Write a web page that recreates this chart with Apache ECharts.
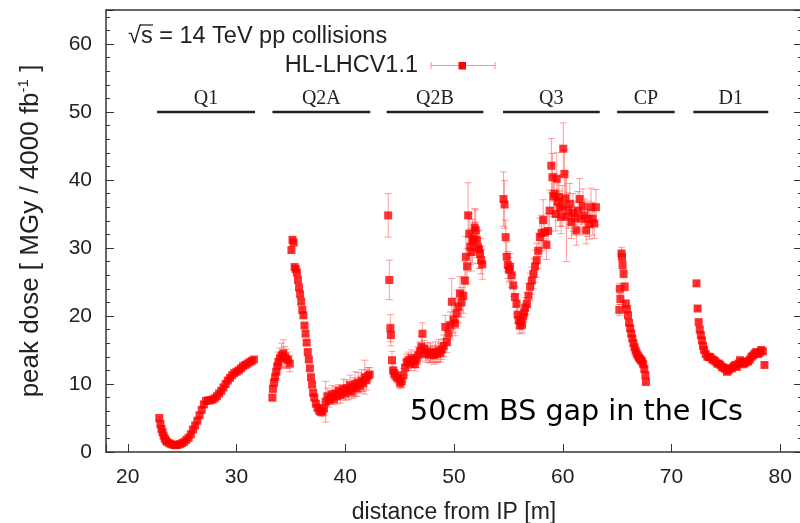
<!DOCTYPE html>
<html><head><meta charset="utf-8">
<script src="https://cdn.jsdelivr.net/npm/echarts@6/dist/echarts.min.js"></script>
<style>html,body{margin:0;padding:0;background:#fff}#c{width:800px;height:523px}</style>
</head><body><div id="c"></div>
<script>
// ---- data (distance from IP [m], peak dose [MGy / 4000 fb^-1], error) ----
const q1X = [22.9,23.0,23.1,23.2,23.3,23.4,23.5,23.6,23.8,24.0,24.2,24.4,24.6,24.8,25.0,25.2,25.4,25.6,25.8,26.0,26.2,26.4,26.6,26.8,27.0,27.2,27.4,27.6,27.8,28.0,28.2,28.4,28.6,28.8,29.0,29.2,29.4,29.6,29.8,30.0,30.2,30.4,30.6,30.8,31.0,31.2,31.4,31.6];
const q1Y = [5.0,4.1,3.4,2.9,2.4,2.0,1.7,1.5,1.3,1.15,1.05,1.0,1.05,1.15,1.3,1.5,1.8,2.1,2.6,3.3,3.9,4.6,5.4,6.2,7.0,7.5,7.6,7.6,7.7,7.9,8.2,8.6,9.0,9.5,10.0,10.5,10.9,11.3,11.6,11.8,12.0,12.3,12.6,12.8,13.0,13.2,13.4,13.6];
const q1E = [0.2,0.2,0.1,0.1,0.1,0.1,0.1,0.1,0.1,0.1,0.1,0.1,0.1,0.1,0.1,0.1,0.1,0.1,0.1,0.1,0.2,0.2,0.2,0.3,0.4,0.4,0.3,0.3,0.3,0.3,0.3,0.3,0.3,0.3,0.3,0.3,0.3,0.3,0.3,0.3,0.3,0.3,0.3,0.3,0.3,0.3,0.3,0.3];

const q2aX = [33.3,33.35,33.45,33.55,33.65,33.75,33.85,34.0,34.15,34.3,34.45,34.6,34.75,34.9,35.05,35.15,35.25,35.35,35.45,35.55,35.65,35.75,35.85,35.95,36.05,36.15,36.25,36.35,36.45,36.55,36.65,36.75,36.85,36.95,37.05,37.15,37.3,37.45,37.6,37.75,37.9,38.05,38.2,38.35,38.5,38.65,38.8,38.95,39.1,39.25,39.4,39.55,39.7,39.85,40.0,40.15,40.3,40.45,40.6,40.75,40.9,41.05,41.2,41.35,41.5,41.65,41.8,41.95,42.1,42.25];
const q2aY = [8.0,9.3,10.2,11.0,11.8,12.6,13.2,13.8,14.2,14.5,14.0,13.7,13.5,13.0,29.7,31.2,30.8,27.2,26.9,26.4,25.3,24.2,23.2,22.1,20.9,20.1,18.6,17.4,16.1,14.7,13.6,12.3,11.0,9.9,8.7,8.0,7.1,6.5,6.1,5.9,6.0,6.4,7.4,8.2,7.6,8.0,8.5,7.8,8.6,8.2,9.0,8.4,8.8,9.3,8.6,9.4,9.0,9.8,8.9,9.5,10.0,9.4,10.2,9.7,10.5,10.1,11.0,10.6,11.2,11.4];
const q2aE = [0.5,0.5,0.6,0.8,1.0,1.2,1.5,1.5,1.8,2.0,1.5,1.4,1.2,1.2,0.3,0.3,0.3,0.3,0.3,0.3,0.3,0.3,0.3,0.3,0.3,0.3,0.3,0.3,0.3,0.3,0.3,0.3,0.3,0.3,0.3,0.3,0.3,0.4,0.5,0.6,0.8,1.0,3.0,1.2,1.0,0.9,1.3,0.8,1.0,1.1,0.9,1.2,1.0,1.4,1.0,1.2,1.3,1.5,1.0,1.4,1.8,1.2,1.5,1.0,1.6,1.2,2.5,1.5,1.2,1.0];

const q2bX = [43.95,44.05,44.15,44.2,44.3,44.4,44.5,44.6,44.75,44.9,45.05,45.2,45.35,45.5,45.65,45.8,45.95,46.1,46.25,46.4,46.55,46.7,46.85,47.0,47.1,47.25,47.4,47.55,47.7,47.85,48.0,48.15,48.3,48.45,48.6,48.75,48.9,49.05,49.2,49.35,49.5,49.65,49.8,49.95,50.1,50.25,50.4,50.55,50.7,50.85,51.0,51.1,51.2,51.3,51.4,51.5,51.6,51.7,51.8,51.9,52.0,52.1,52.2,52.3,52.4,52.5,52.6];
const q2bY = [34.8,25.3,18.2,17.2,13.5,12.0,11.6,11.3,11.0,10.8,10.1,10.4,11.3,12.4,13.2,13.5,13.0,13.8,13.4,12.9,13.6,14.2,14.8,15.5,17.4,15.2,14.4,14.8,14.3,14.6,14.5,14.2,14.7,14.4,14.9,14.6,15.1,15.6,18.4,16.2,17.4,18.6,22.1,19.5,18.9,20.4,21.4,23.3,22.0,23.0,25.2,28.7,27.3,34.8,32.1,30.2,29.4,31.0,31.4,33.0,32.6,31.2,30.1,29.8,29.2,28.2,27.6];
const q2bE = [3.2,2.9,2.0,1.6,1.3,1.0,0.9,0.8,0.8,0.8,0.8,0.9,1.0,1.1,1.2,1.2,1.0,1.2,1.0,1.0,1.2,1.3,1.4,1.5,1.6,1.2,1.2,1.3,1.2,1.4,1.2,1.3,1.5,1.3,1.6,1.4,1.5,1.6,1.7,1.6,1.8,2.0,3.4,2.0,1.8,2.2,2.4,2.5,2.2,2.6,2.8,3.0,2.6,4.8,3.0,2.6,2.8,3.2,2.4,2.8,3.0,2.6,2.4,2.8,2.2,2.0,2.2];

const q3X = [54.55,54.65,54.75,54.85,54.95,55.05,55.15,55.3,55.45,55.6,55.75,55.85,55.95,56.05,56.15,56.25,56.35,56.45,56.55,56.7,56.85,57.0,57.15,57.3,57.45,57.6,57.75,57.9,58.05,58.2,58.35,58.5,58.65,58.8,58.95,59.05,59.15,59.25,59.35,59.45,59.55,59.65,59.75,59.85,59.95,60.05,60.15,60.25,60.35,60.5,60.65,60.8,60.95,61.1,61.25,61.4,61.55,61.7,61.85,62.0,62.15,62.3,62.45,62.6,62.75,62.9,63.05];
const q3Y = [37.2,36.4,31.6,28.7,27.5,26.8,27.2,26.0,24.5,22.8,21.8,20.2,19.4,18.6,19.2,18.7,19.9,20.5,21.2,21.8,23.0,24.3,25.2,26.2,27.3,28.2,29.6,31.6,32.2,34.1,32.3,30.5,32.5,35.5,42.1,40.4,37.6,38.0,35.0,40.2,36.8,37.5,35.8,34.6,36.2,44.6,40.9,37.3,34.6,35.5,36.5,33.8,35.2,34.4,32.6,35.5,37.2,34.3,36.1,34.8,32.6,34.3,33.5,36.0,34.3,33.6,36.0];
const q3E = [4.0,3.5,2.5,2.2,2.0,1.8,2.0,1.8,1.6,1.5,1.4,1.3,1.2,1.2,1.2,1.2,1.3,1.4,1.5,1.6,1.8,2.0,2.0,2.2,2.4,2.5,2.6,2.8,2.6,3.0,2.4,2.2,2.6,3.0,4.0,3.5,3.0,3.0,2.5,3.8,2.8,3.0,2.6,2.5,3.0,3.8,3.5,3.0,6.6,2.6,3.0,2.4,2.8,2.5,2.2,2.8,3.0,2.4,2.6,2.4,2.0,2.6,2.2,2.8,2.4,2.2,2.6];

const cpX = [65.2,65.25,65.3,65.4,65.45,65.5,65.6,65.7,65.8,65.9,66.0,66.1,66.2,66.3,66.4,66.5,66.6,66.7,66.8,66.9,67.0,67.1,67.2,67.3,67.4,67.5,67.6,67.65];
const cpY = [20.9,24.0,22.5,29.2,28.7,27.5,26.2,24.3,21.8,21.0,20.1,19.0,18.2,17.4,16.7,16.0,15.4,14.9,14.5,14.2,13.9,13.7,13.5,13.3,12.9,12.2,11.3,10.3];
const cpE = [0.8,0.8,0.8,0.9,0.8,0.7,0.6,0.6,0.6,0.5,0.5,0.4,0.4,0.3,0.3,0.3,0.3,0.3,0.3,0.3,0.3,0.3,0.3,0.3,0.3,0.3,0.3,0.3];

const d1X = [72.3,72.4,72.5,72.6,72.7,72.8,72.9,73.0,73.15,73.3,73.45,73.6,73.75,73.9,74.05,74.2,74.35,74.5,74.65,74.8,74.95,75.1,75.25,75.4,75.55,75.7,75.85,76.0,76.15,76.3,76.45,76.6,76.75,76.9,77.05,77.2,77.35,77.5,77.65,77.8,77.95,78.1,78.25,78.4,78.55];
const d1Y = [24.8,21.1,19.1,18.0,17.2,16.4,15.6,15.0,14.4,14.0,14.0,13.9,13.6,13.5,13.3,13.0,13.0,12.8,12.5,12.4,12.2,11.8,12.0,12.3,12.3,12.6,12.8,12.5,13.0,13.5,13.2,12.9,13.1,13.3,13.3,13.6,14.0,14.2,14.5,14.7,14.4,14.6,15.0,14.8,12.8];
const d1E = [0.3,0.3,0.3,0.3,0.3,0.3,0.3,0.3,0.3,0.4,0.5,0.4,0.3,0.3,0.3,0.3,0.3,0.3,0.3,0.3,0.3,0.3,0.3,0.3,0.3,0.3,0.3,0.3,0.3,0.3,0.3,0.3,0.3,0.3,0.3,0.3,0.3,0.3,0.3,0.3,0.3,0.3,0.3,0.3,0.3];

// magnet labels and their extent
const magnetNames = ['Q1','Q2A','Q2B','Q3','CP','D1'];
const magnetStart = [22.7,33.3,43.8,54.5,65.0,72.0];
const magnetEnd   = [31.7,42.3,52.7,63.4,70.3,78.9];
const magnetLevel = 50;

const seriesName = 'HL-LHCV1.1';

// ---- build ----
const groups = [[q1X,q1Y,q1E],[q2aX,q2aY,q2aE],[q2bX,q2bY,q2bE],[q3X,q3Y,q3E],[cpX,cpY,cpE],[d1X,d1Y,d1E]];
const points = [], errs = [];
groups.forEach(([xs,ys,es]) => xs.forEach((x,i) => {
  points.push([x, ys[i]]);
  errs.push([x, +(ys[i]-es[i]).toFixed(3), +(ys[i]+es[i]).toFixed(3)]);
}));
const magnets = magnetNames.map((n,i) => [magnetStart[i], magnetEnd[i], magnetLevel]);

const AX = '#333';
const SANS = '"Liberation Sans", Arial, sans-serif';
const chart = echarts.init(document.getElementById('c'), null, {renderer:'canvas'});
const yCommon = {
  type:'value', min:0, max:65, interval:10,
  splitLine:{show:false},
  axisTick:{show:true, inside:true, length:8, lineStyle:{color:AX, width:1}},
  minorTick:{show:true, splitNumber:5, length:4, lineStyle:{color:AX, width:1}},
  axisLine:{show:true, lineStyle:{color:AX, width:1.5}}
};
chart.setOption({
  animation:false,
  backgroundColor:'#fff',
  grid:{left:106, right:-2, top:10, bottom:71, containLabel:false, outerBoundsMode:'none'},
  xAxis:[{
    type:'value', min:18, max:82, splitNumber:6, position:'bottom',
    splitLine:{show:false},
    axisLine:{show:true, onZero:false, lineStyle:{color:AX, width:1.5}},
    axisTick:{show:true, inside:true, length:8, lineStyle:{color:AX, width:1}},
    axisLabel:{fontSize:21, fontFamily:SANS, color:'#222', margin:15,
      formatter:v => (Math.abs(v % 10) < 1e-9 ? String(v) : '')},
    name:'distance from IP [m]', nameLocation:'middle', nameGap:49,
    nameTextStyle:{fontSize:23, fontFamily:SANS, color:'#222'}
  },{
    type:'value', min:18, max:82, position:'top',
    splitLine:{show:false}, axisTick:{show:false}, axisLabel:{show:false},
    axisLine:{show:true, onZero:false, lineStyle:{color:AX, width:1.5}}
  }],
  yAxis:[Object.assign({}, yCommon, {
    position:'left',
    axisLabel:{fontSize:21, fontFamily:SANS, color:'#222', margin:14,
      formatter:v => (v % 10 === 0 ? String(v) : '')},
    name:'{a|peak dose [ MGy / 4000 fb}{b|-1}{a| ]}',
    nameLocation:'middle', nameGap:60, nameRotate:90,
    nameTextStyle:{rich:{
      a:{fontSize:26, fontFamily:SANS, color:'#222', lineHeight:30},
      b:{fontSize:15, fontFamily:SANS, color:'#222', verticalAlign:'top', lineHeight:30}
    }}
  }), Object.assign({}, yCommon, {
    position:'right', axisLabel:{show:false},
    axisLine:{show:false}
  })],
  series:[{
    type:'custom', name:'err', xAxisIndex:0, yAxisIndex:0, z:2,
    encode:{x:0, y:[1,2]}, data:errs, silent:true,
    renderItem:(params, api) => {
      const x = api.value(0);
      const lo = api.coord([x, api.value(1)]);
      const hi = api.coord([x, api.value(2)]);
      const w = 3.5, st = {stroke:'rgba(255,40,40,0.45)', lineWidth:1};
      return {type:'group', children:[
        {type:'line', shape:{x1:lo[0], y1:lo[1], x2:hi[0], y2:hi[1]}, style:st},
        {type:'line', shape:{x1:lo[0]-w, y1:lo[1], x2:lo[0]+w, y2:lo[1]}, style:st},
        {type:'line', shape:{x1:hi[0]-w, y1:hi[1], x2:hi[0]+w, y2:hi[1]}, style:st}
      ]};
    }
  },{
    type:'scatter', name:seriesName, data:points, symbol:'rect', symbolSize:8, z:3,
    itemStyle:{color:'#ff0000'}
  },{
    type:'custom', name:'magnets', z:4, encode:{x:[0,1], y:2}, data:magnets, silent:true,
    renderItem:(params, api) => {
      const s = api.coord([api.value(0), api.value(2)]);
      const e = api.coord([api.value(1), api.value(2)]);
      return {type:'group', children:[
        {type:'line', shape:{x1:s[0], y1:s[1], x2:e[0], y2:e[1]}, style:{stroke:'#222', lineWidth:2.5}},
        {type:'text', x:(s[0]+e[0])/2, y:s[1]-13, style:{text:magnetNames[params.dataIndex],
          font:'20px "Liberation Serif", "Times New Roman", serif', fill:'#222', align:'center', verticalAlign:'middle'}}
      ]};
    }
  }],
  graphic:[
    {type:'text', x:128, y:37, style:{text:'√s = 14 TeV pp collisions', font:'23.5px '+SANS, fill:'#222', verticalAlign:'middle'}},
    {type:'line', shape:{x1:140, y1:25, x2:153, y2:25}, style:{stroke:'#222', lineWidth:1.3}},
    {type:'text', x:418, y:66, style:{text:seriesName, font:'23.5px '+SANS, fill:'#222', align:'right', verticalAlign:'middle'}},
    {type:'line', shape:{x1:431, y1:65.5, x2:495, y2:65.5}, style:{stroke:'rgba(255,40,40,0.5)', lineWidth:1}},
    {type:'line', shape:{x1:431, y1:62, x2:431, y2:69}, style:{stroke:'rgba(255,40,40,0.5)', lineWidth:1}},
    {type:'line', shape:{x1:495, y1:62, x2:495, y2:69}, style:{stroke:'rgba(255,40,40,0.5)', lineWidth:1}},
    {type:'rect', shape:{x:458.5, y:62, width:7.5, height:7.5}, style:{fill:'#ff0000'}},
    {type:'text', x:410, y:413, style:{text:'50cm BS gap in the ICs', font:'28.6px "DejaVu Sans", sans-serif', fill:'#000', verticalAlign:'middle'}}
  ]
});
</script></body></html>
